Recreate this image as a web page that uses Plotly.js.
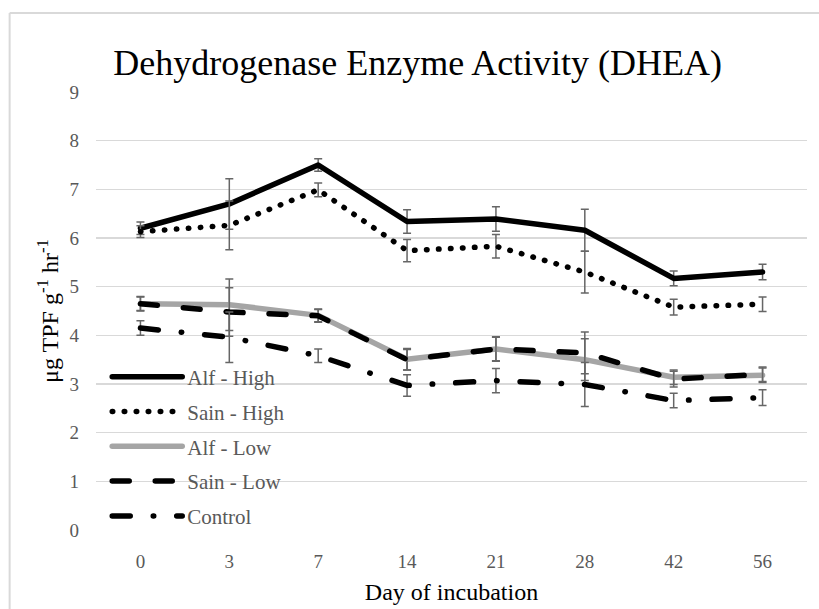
<!DOCTYPE html>
<html>
<head>
<meta charset="utf-8">
<script src="https://cdn.plot.ly/plotly-3.0.1.min.js"></script>
<style>
  html, body { margin: 0; padding: 0; overflow: hidden; background: #fff; width: 819px; height: 609px; }
  ::-webkit-scrollbar { width: 0; height: 0; display: none; }
  html { scrollbar-width: none; }
  #chart { position: fixed; left: 0; top: 0; width: 819px; height: 609px; }
  .js-line { stroke-linecap: round; stroke-linejoin: round; }
</style>
</head>
<body>
<div id="chart"></div>
<script>
const days = ['0', '3', '7', '14', '21', '28', '42', '56'];

const alfHigh    = [6.20, 6.70, 7.50, 6.34, 6.39, 6.16, 5.17, 5.30];
const alfHighErr = [0.13, 0.52, 0.13, 0.24, 0.25, 0.43, 0.15, 0.16];

const sainHigh    = [6.13, 6.26, 6.99, 5.74, 5.83, 5.30, 4.58, 4.64];
const sainHighErr = [0.12, 0.50, 0.14, 0.23, 0.24, 0.43, 0.16, 0.15];

const alfLow    = [4.65, 4.63, 4.41, 3.51, 3.72, 3.50, 3.14, 3.18];
const alfLowErr = [0.15, 0.53, 0.13, 0.22, 0.25, 0.43, 0.15, 0.15];

const sainLow    = [4.65, 4.48, 4.40, 3.50, 3.72, 3.64, 3.10, 3.20];
const sainLowErr = [0.14, 0.50, 0.13, 0.21, 0.24, 0.43, 0.16, 0.15];

const control    = [4.15, 3.96, 3.58, 2.97, 3.07, 2.99, 2.66, 2.72];
const controlErr = [0.15, 0.52, 0.14, 0.22, 0.25, 0.45, 0.15, 0.16];

const seriesNames = ['Alf - High', 'Sain - High', 'Alf - Low', 'Sain - Low', 'Control'];

const errStyle = { color: '#666666', thickness: 1.5, width: 4 };
const LW = 5.5;

function mk(name, y, err, color, dash) {
  return {
    type: 'scatter', mode: 'lines', name: name, x: days, y: y,
    legendgroup: name,
    line: { color: color, width: LW, dash: dash },
    error_y: Object.assign({ type: 'data', array: err, visible: true }, errStyle),
    hoverinfo: 'x+y'
  };
}

const data = [
  mk(seriesNames[0], alfHigh, alfHighErr, '#000000', 'solid'),
  mk(seriesNames[1], sainHigh, sainHighErr, '#000000', '0.5px,11.5px'),
  mk(seriesNames[2], alfLow, alfLowErr, '#a5a5a5', 'solid'),
  mk(seriesNames[3], sainLow, sainLowErr, '#000000', '17px,26px'),
  mk(seriesNames[4], control, controlErr, '#000000', '18px,23px,0.5px,23px')
];

const serif = 'Liberation Serif, Times New Roman, serif';

// outer chart-area frame (left and top edges visible in the reference)
const fx = (9 - 95.5) / 712;
const fy = (530.5 - 13) / 438.5;
const frameLine = { color: '#d9d9d9', width: 2 };

const layout = {
  width: 819, height: 609,
  margin: { l: 95.5, r: 11.5, t: 92, b: 78.5 },
  paper_bgcolor: '#ffffff', plot_bgcolor: 'rgba(0,0,0,0)',
  font: { family: serif, color: '#595959', size: 19 },
  title: {
    text: 'Dehydrogenase Enzyme Activity (DHEA)',
    font: { family: serif, size: 36, color: '#000000' },
    x: 0.51, xref: 'container', xanchor: 'center',
    y: 1 - 62 / 609, yref: 'container', yanchor: 'middle'
  },
  xaxis: {
    type: 'category', range: [-0.5, 7.5],
    showgrid: false, zeroline: false, showline: false, ticks: '',
    ticklabelstandoff: 18,
    tickfont: { family: serif, size: 19, color: '#595959' },
    title: { text: 'Day of incubation', font: { family: serif, size: 24, color: '#000000' }, standoff: 12 }
  },
  yaxis: {
    range: [0, 9], dtick: 1, tick0: 0,
    showgrid: true, gridcolor: '#d9d9d9', gridwidth: 1.5,
    zeroline: false, showline: false, ticks: '',
    ticklabelstandoff: 16,
    tickfont: { family: serif, size: 19, color: '#595959' },
    title: { text: 'μg TPF g<sup>-1</sup> hr<sup>-1</sup>', font: { family: serif, size: 24, color: '#000000' }, standoff: 4 }
  },
  shapes: [
    { type: 'line', xref: 'paper', yref: 'paper', x0: fx, x1: fx, y0: -0.3, y1: fy, line: frameLine, layer: 'below' },
    { type: 'line', xref: 'paper', yref: 'paper', x0: fx, x1: 1.03, y0: fy, y1: fy, line: frameLine, layer: 'below' }
  ],
  showlegend: true,
  legend: {
    x: 0.0158, xanchor: 'left', y: 0.396, yanchor: 'top',
    bgcolor: 'rgba(0,0,0,0)', borderwidth: 0,
    traceorder: 'grouped', tracegroupgap: 4.5,
    itemwidth: 70,
    font: { family: serif, size: 21, color: '#595959' }
  }
};

Plotly.newPlot('chart', data, layout, { displayModeBar: false, staticPlot: true });
</script>
</body>
</html>
